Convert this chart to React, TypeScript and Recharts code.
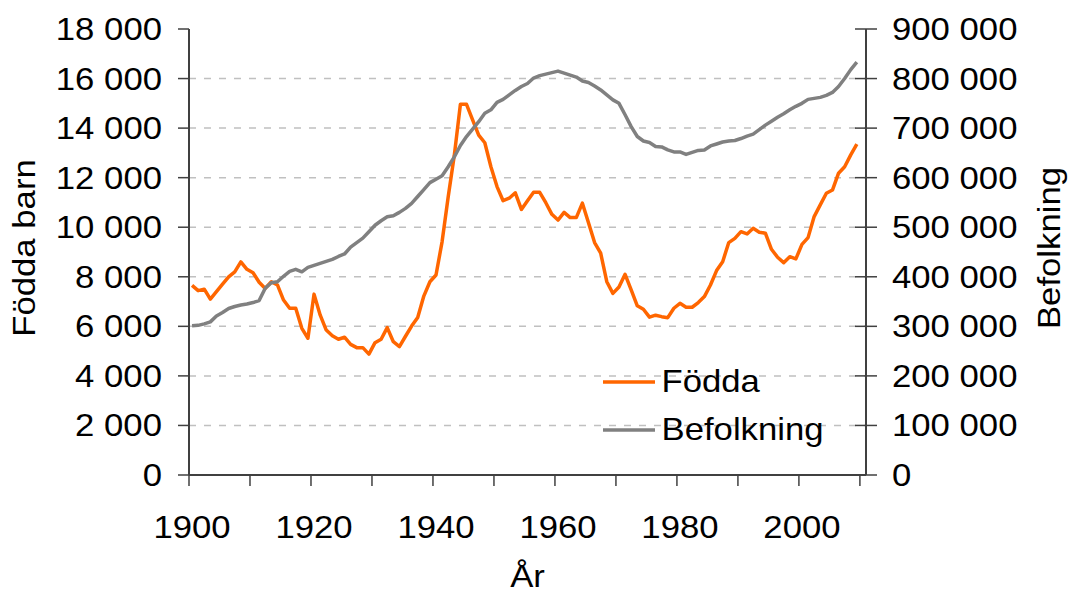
import React from 'react';
import { LineChart, Line, XAxis, YAxis, CartesianGrid, Legend, Label } from 'recharts';

// ---- Data ----
const START_YEAR = 1900;

// Födda barn (births), 1900–2009
const births = [
  7650, 7440, 7500, 7100, 7400, 7700, 8000, 8200, 8600, 8300,
  8160, 7780, 7530, 7800, 7670, 7060, 6730, 6730, 5920, 5520,
  7300, 6460, 5850, 5620, 5480, 5560, 5270, 5140, 5140, 4880,
  5340, 5480, 5950, 5380, 5180, 5600, 6010, 6360, 7220, 7800,
  8070, 9420, 11230, 12900, 14960, 14960, 14330, 13720, 13410, 12440,
  11640, 11070, 11170, 11390, 10720, 11070, 11410, 11410, 10990, 10520,
  10290, 10600, 10390, 10390, 10970, 10180, 9380, 8950, 7800, 7330,
  7590, 8100, 7470, 6830, 6690, 6370, 6450, 6390, 6350, 6730,
  6930, 6770, 6770, 6960, 7200, 7670, 8250, 8610, 9380, 9550,
  9820, 9730, 9960, 9800, 9760, 9110, 8790, 8570, 8810, 8720,
  9310, 9580, 10430, 10900, 11370, 11500, 12180, 12440, 12920, 13350,
];

// Befolkning (population), 1900–2009
const population = [
  301000, 302000, 305000, 309000, 321000, 328000, 336000, 340000, 343000, 345000,
  348000, 352000, 377000, 388000, 390000, 401000, 411000, 415000, 410000, 419000,
  423000, 427000, 431000, 435000, 441000, 446000, 460000, 469000, 478000, 491000,
  504000, 513000, 521000, 523000, 530000, 538000, 548000, 562000, 576000, 590000,
  597000, 604000, 622000, 642000, 665000, 683000, 698000, 713000, 730000, 737000,
  752000, 758000, 767000, 776000, 784000, 790000, 801000, 806000, 809000, 812000,
  815000, 811000, 807000, 803000, 795000, 792000, 785000, 777000, 767000, 757000,
  750000, 727000, 703000, 683000, 674000, 671000, 663000, 662000, 656000, 652000,
  652000, 647000, 651000, 655000, 656000, 664000, 668000, 672000, 674000, 675000,
  679000, 684000, 688000, 697000, 706000, 714000, 722000, 729000, 737000, 744000,
  750000, 758000, 760000, 762000, 766000, 772000, 784000, 800000, 818000, 833000,
];

const seriesNames = ['Födda', 'Befolkning'];
const birthTicks = [0, 2000, 4000, 6000, 8000, 10000, 12000, 14000, 16000, 18000];
const popTicks = [0, 100000, 200000, 300000, 400000, 500000, 600000, 700000, 800000, 900000];
const gridValues = [2000, 4000, 6000, 8000, 10000, 12000, 14000, 16000];
const xTickYears = [1900, 1910, 1920, 1930, 1940, 1950, 1960, 1970, 1980, 1990, 2000, 2010];
const xLabelYears = [1900, 1920, 1940, 1960, 1980, 2000];
const X_DOMAIN: [number, number] = [1899.5, 2010.5];

const data = births.map((b, i) => ({
  year: START_YEAR + i,
  births: b,
  population: population[i],
}));

// ---- Layout / style ----
const W = 1070;
const H = 595;
const PLOT_L = 189;
const PLOT_R = 866;
const PLOT_T = 29;
const PLOT_B = 475;
const FONT = '"Liberation Sans", Arial, sans-serif';
const FS = 31;
const SX = 1.12;
const AXIS = '#404040';
const ORANGE = '#FF6600';
const GREY = '#808080';
const HALF_BAND = (PLOT_R - PLOT_L) / (X_DOMAIN[1] - X_DOMAIN[0]) / 2;

const fmt = (v: number) => String(v).replace(/\B(?=(\d{3})+(?!\d))/g, ' ');

function SText({ x, y, anchor, rotate, children }: any) {
  const t = rotate
    ? `translate(${x},${y}) rotate(-90) scale(${SX},1)`
    : `translate(${x},${y}) scale(${SX},1)`;
  return (
    <g transform={t}>
      <text x={0} y={0} textAnchor={anchor} fontFamily={FONT} fontSize={FS} fill="#000">
        {children}
      </text>
    </g>
  );
}

const LeftTick = (props: any) => {
  const { x, y, payload } = props;
  return (
    <g>
      <line x1={x - 11} x2={x} y1={y} y2={y} stroke={AXIS} strokeWidth={1.5} />
      <SText x={x - 27} y={y + 11} anchor="end">{fmt(payload.value)}</SText>
    </g>
  );
};

const RightTick = (props: any) => {
  const { x, y, payload } = props;
  return (
    <g>
      <line x1={x - 11} x2={x + 11} y1={y} y2={y} stroke={AXIS} strokeWidth={1.5} />
      <SText x={x + 26} y={y + 11} anchor="start">{fmt(payload.value)}</SText>
    </g>
  );
};

const BottomTick = (props: any) => {
  const { x, y, payload } = props;
  const bx = x - HALF_BAND;
  return (
    <g>
      <line x1={bx} x2={bx} y1={y} y2={y + 11} stroke={AXIS} strokeWidth={1.5} />
      {xLabelYears.includes(payload.value) ? (
        <SText x={x} y={y + 63} anchor="middle">{payload.value}</SText>
      ) : null}
    </g>
  );
};

const renderLegend = (props: any) => {
  const payload = [...(props.payload || [])].sort(
    (a: any, b: any) => seriesNames.indexOf(a.value) - seriesNames.indexOf(b.value)
  );
  return (
    <svg width={260} height={95} style={{ display: 'block' }}>
      {payload.map((p: any, i: number) => (
        <g key={p.value}>
          <line x1={8} x2={60} y1={22 + 48 * i} y2={22 + 48 * i} stroke={p.color} strokeWidth={3.5} />
          <SText x={66.5} y={32 + 48 * i} anchor="start">{p.value}</SText>
        </g>
      ))}
    </svg>
  );
};

export default function App() {
  return (
    <div style={{ position: 'absolute', left: 0, top: 0, width: W, height: H, background: '#fff' }}>
      <LineChart
        width={W}
        height={H}
        data={data}
        margin={{ top: PLOT_T, right: 0, bottom: 0, left: 0 }}
      >
        <CartesianGrid
          yAxisId="left"
          vertical={false}
          horizontalValues={gridValues}
          stroke="#C0C0C0"
          strokeDasharray="7 8"
          strokeWidth={1.5}
        />
        <XAxis
          dataKey="year"
          type="number"
          domain={X_DOMAIN}
          ticks={xTickYears}
          interval={0}
          height={H - PLOT_B}
          tickSize={0}
          tickMargin={0}
          tickLine={false}
          axisLine={{ stroke: AXIS, strokeWidth: 2 }}
          tick={<BottomTick />}
        >
          <Label
            content={(p: any) => {
              const vb = p.viewBox || { x: PLOT_L, y: PLOT_B, width: PLOT_R - PLOT_L, height: H - PLOT_B };
              return <SText x={vb.x + vb.width / 2} y={vb.y + 112} anchor="middle">År</SText>;
            }}
          />
        </XAxis>
        <YAxis
          yAxisId="left"
          orientation="left"
          width={PLOT_L}
          domain={[0, 18000]}
          ticks={birthTicks}
          interval={0}
          tickSize={0}
          tickMargin={0}
          tickLine={false}
          axisLine={{ stroke: AXIS, strokeWidth: 2 }}
          tick={<LeftTick />}
        >
          <Label
            content={(p: any) => {
              const vb = p.viewBox || { x: 0, y: PLOT_T, width: PLOT_L, height: PLOT_B - PLOT_T };
              return <SText x={vb.x + 35} y={vb.y + vb.height / 2 - 4} anchor="middle" rotate>Födda barn</SText>;
            }}
          />
        </YAxis>
        <YAxis
          yAxisId="right"
          orientation="right"
          width={W - PLOT_R}
          domain={[0, 900000]}
          ticks={popTicks}
          interval={0}
          tickSize={0}
          tickMargin={0}
          tickLine={false}
          axisLine={{ stroke: AXIS, strokeWidth: 2 }}
          tick={<RightTick />}
        >
          <Label
            content={(p: any) => {
              const vb = p.viewBox || { x: PLOT_R, y: PLOT_T, width: W - PLOT_R, height: PLOT_B - PLOT_T };
              return <SText x={vb.x + 194} y={vb.y + vb.height / 2 - 4} anchor="middle" rotate>Befolkning</SText>;
            }}
          />
        </YAxis>
        <Legend
          layout="vertical"
          align="center"
          verticalAlign="middle"
          itemSorter={null as any}
          wrapperStyle={{ left: 595, top: 360, width: 260, height: 95 }}
          content={renderLegend}
        />
        <Line
          yAxisId="left"
          type="linear"
          dataKey="births"
          name="Födda"
          stroke={ORANGE}
          strokeWidth={3.5}
          strokeLinejoin="round"
          dot={false}
          activeDot={false}
          isAnimationActive={false}
        />
        <Line
          yAxisId="right"
          type="linear"
          dataKey="population"
          name="Befolkning"
          stroke={GREY}
          strokeWidth={3.5}
          strokeLinejoin="round"
          dot={false}
          activeDot={false}
          isAnimationActive={false}
        />
      </LineChart>
    </div>
  );
}
